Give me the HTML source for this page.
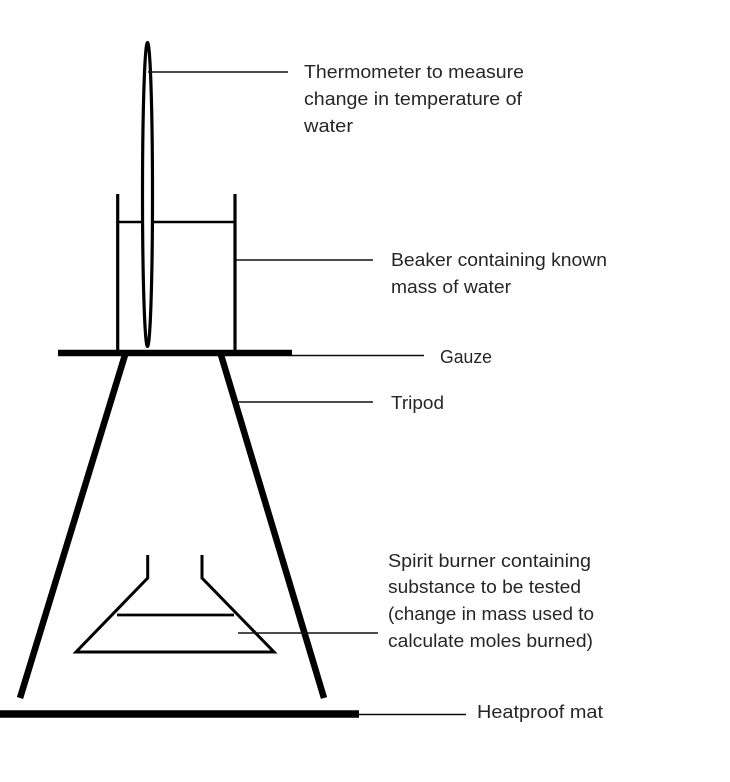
<!DOCTYPE html>
<html>
<head>
<meta charset="utf-8">
<style>
html,body{margin:0;padding:0;background:#fff;width:730px;height:782px;overflow:hidden}
svg{display:block}
text{font-family:"Liberation Sans",sans-serif;font-size:18.5px;fill:#262626}
</style>
</head>
<body>
<svg width="730" height="782" viewBox="0 0 730 782" xmlns="http://www.w3.org/2000/svg">
<defs><filter id="b" filterUnits="userSpaceOnUse" x="-20" y="0" width="770" height="782"><feGaussianBlur stdDeviation="0.3"/></filter></defs>
<g filter="url(#b)">
<g fill="none" stroke="#000" stroke-linecap="butt">
  <ellipse cx="147.500" cy="194.500" rx="5" ry="152" stroke-width="3.200" fill="#fff"/>
  <line x1="117.700" y1="194" x2="117.700" y2="352" stroke-width="3.200"/>
  <line x1="235" y1="194" x2="235" y2="352" stroke-width="3.200"/>
  <line x1="118" y1="222" x2="142" y2="222" stroke-width="2.600"/>
  <line x1="153" y1="222" x2="235" y2="222" stroke-width="2.600"/>
  <line x1="125" y1="355" x2="20" y2="698" stroke-width="6.500"/>
  <line x1="221" y1="355" x2="324" y2="698" stroke-width="6.500"/>
  <line x1="58" y1="353" x2="292" y2="353" stroke-width="6.500"/>
  <line x1="-15" y1="714" x2="359" y2="714" stroke-width="7.500"/>
  <path d="M147.700 555V578L76 652H274L202 578V555" stroke-width="3"/>
  <line x1="117" y1="615" x2="234" y2="615" stroke-width="2.800"/>
</g>
<g stroke="#111" stroke-width="1.500" fill="none">
  <line x1="148" y1="72" x2="288" y2="72"/>
  <line x1="236" y1="260" x2="373" y2="260"/>
  <line x1="292" y1="355.500" x2="424" y2="355.500"/>
  <line x1="238" y1="402" x2="373" y2="402"/>
  <line x1="238" y1="633" x2="378" y2="633"/>
  <line x1="359" y1="714.500" x2="466" y2="714.500"/>
</g>
</g>
<text x="304" y="78" textLength="220" lengthAdjust="spacingAndGlyphs">Thermometer to measure</text>
<text x="304" y="105" textLength="218" lengthAdjust="spacingAndGlyphs">change in temperature of</text>
<text x="304" y="132" textLength="49" lengthAdjust="spacingAndGlyphs">water</text>
<text x="391" y="266" textLength="216" lengthAdjust="spacingAndGlyphs">Beaker containing known</text>
<text x="391" y="293" textLength="120" lengthAdjust="spacingAndGlyphs">mass of water</text>
<text x="440" y="363" textLength="52" lengthAdjust="spacingAndGlyphs">Gauze</text>
<text x="391" y="409" textLength="53" lengthAdjust="spacingAndGlyphs">Tripod</text>
<text x="388" y="567" textLength="203" lengthAdjust="spacingAndGlyphs">Spirit burner containing</text>
<text x="388" y="593" textLength="193" lengthAdjust="spacingAndGlyphs">substance to be tested</text>
<text x="388" y="620" textLength="206" lengthAdjust="spacingAndGlyphs">(change in mass used to</text>
<text x="388" y="647" textLength="205" lengthAdjust="spacingAndGlyphs">calculate moles burned)</text>
<text x="477" y="718" textLength="126" lengthAdjust="spacingAndGlyphs">Heatproof mat</text>
</svg>
</body>
</html>
